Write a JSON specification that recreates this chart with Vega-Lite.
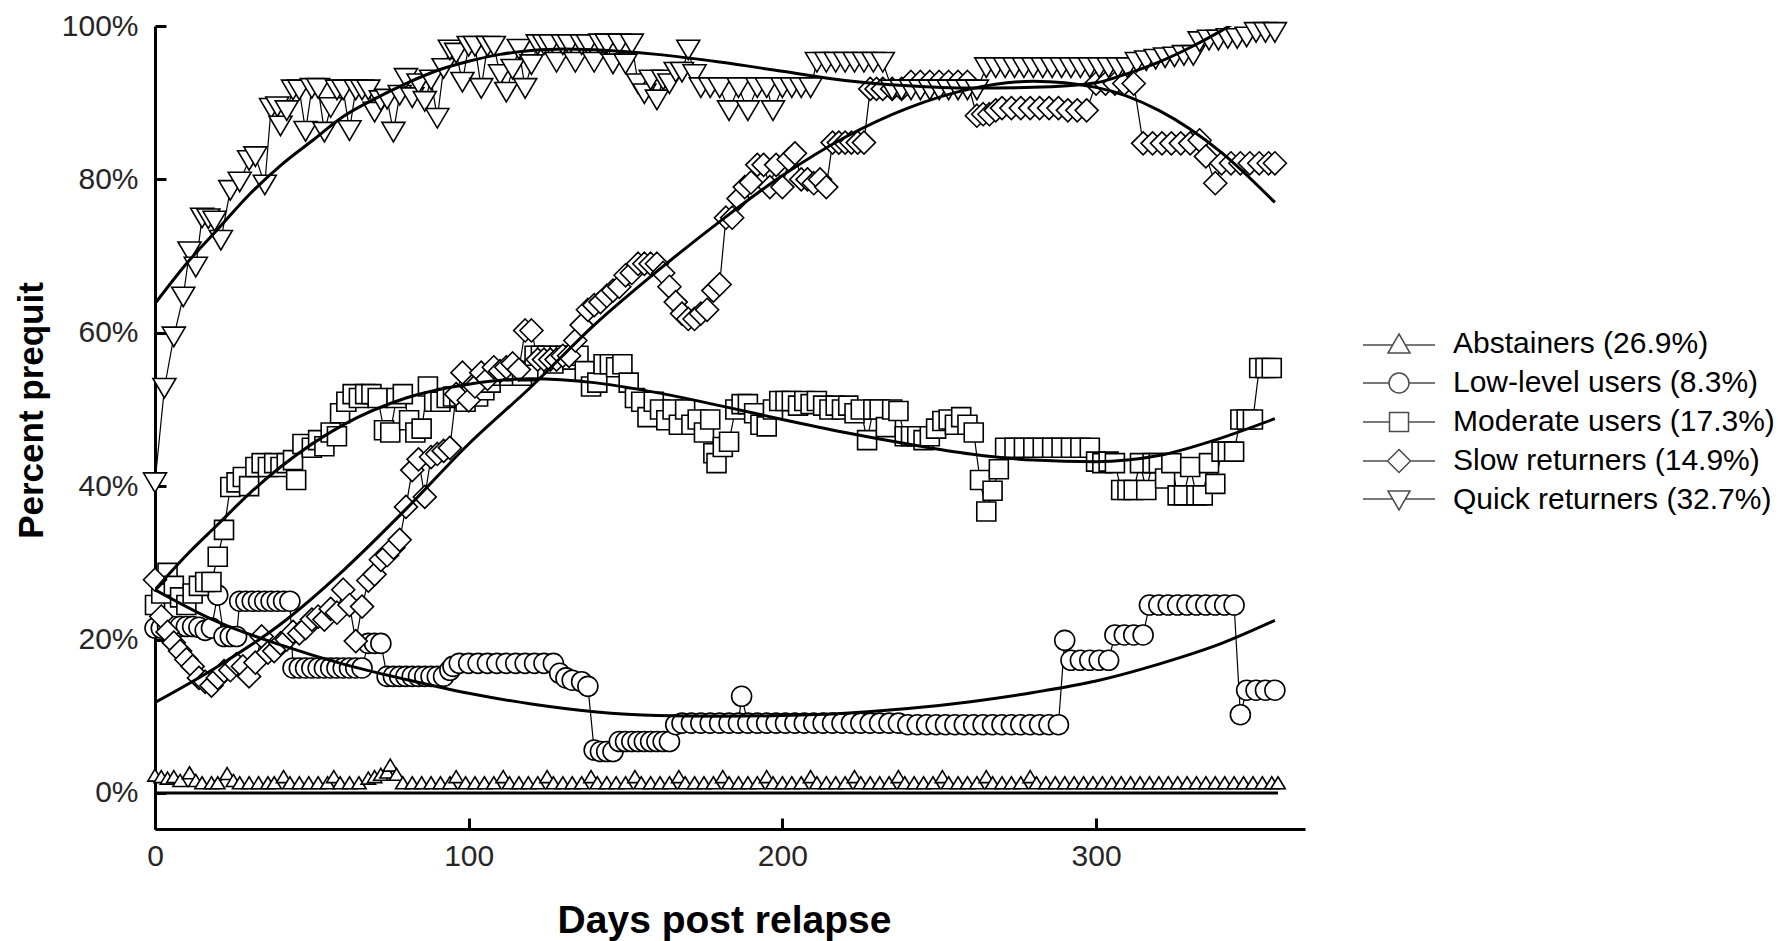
{
  "$schema": "https://vega.github.io/schema/vega-lite/v6.json",
  "width": 1150,
  "height": 803,
  "autosize": {"type": "none"},
  "padding": {"left": 155, "top": 26, "right": 482, "bottom": 112},
  "background": "white",
  "config": {"view": {"stroke": null}, "font": "Liberation Sans"},
  "datasets": {
    "leg": [
      {"name": "Abstainers (26.9%)"},
      {"name": "Low-level users (8.3%)"},
      {"name": "Moderate users (17.3%)"},
      {"name": "Slow returners (14.9%)"},
      {"name": "Quick returners (32.7%)"}
    ],
    "obs": [
      {"g":"A","d":0,"v":2.2},{"g":"A","d":2,"v":2.0},{"g":"A","d":4,"v":1.8},{"g":"A","d":6,"v":2.0},{"g":"A","d":8,"v":1.5},{"g":"A","d":11,"v":2.5},{"g":"A","d":13,"v":1.5},{"g":"A","d":15,"v":1.2},{"g":"A","d":18,"v":1.2},{"g":"A","d":20,"v":1.2},{"g":"A","d":23,"v":2.4},{"g":"A","d":25,"v":1.5},{"g":"A","d":27,"v":1.2},{"g":"A","d":30,"v":1.2},{"g":"A","d":33,"v":1.2},{"g":"A","d":36,"v":1.2},{"g":"A","d":38,"v":1.2},{"g":"A","d":41,"v":2.0},{"g":"A","d":43,"v":1.2},{"g":"A","d":46,"v":1.2},{"g":"A","d":49,"v":1.2},{"g":"A","d":52,"v":1.2},{"g":"A","d":55,"v":1.2},{"g":"A","d":57,"v":2.0},{"g":"A","d":59,"v":1.2},{"g":"A","d":62,"v":1.2},{"g":"A","d":65,"v":1.2},{"g":"A","d":68,"v":1.8},{"g":"A","d":70,"v":2.0},{"g":"A","d":72,"v":2.3},{"g":"A","d":74,"v":2.6},{"g":"A","d":75,"v":3.5},{"g":"A","d":77,"v":2.3},{"g":"A","d":79,"v":1.2},{"g":"A","d":82,"v":1.2},{"g":"A","d":85,"v":1.2},{"g":"A","d":88,"v":1.2},{"g":"A","d":91,"v":1.2},{"g":"A","d":94,"v":1.2},{"g":"A","d":96,"v":2.0},{"g":"A","d":99,"v":1.2},{"g":"A","d":102,"v":1.2},{"g":"A","d":105,"v":1.2},{"g":"A","d":108,"v":1.2},{"g":"A","d":111,"v":2.0},{"g":"A","d":113,"v":1.2},{"g":"A","d":116,"v":1.2},{"g":"A","d":119,"v":1.2},{"g":"A","d":122,"v":1.2},{"g":"A","d":125,"v":2.0},{"g":"A","d":127,"v":1.2},{"g":"A","d":130,"v":1.2},{"g":"A","d":133,"v":1.2},{"g":"A","d":136,"v":1.2},{"g":"A","d":139,"v":2.0},{"g":"A","d":141,"v":1.2},{"g":"A","d":144,"v":1.2},{"g":"A","d":147,"v":1.2},{"g":"A","d":150,"v":1.2},{"g":"A","d":153,"v":2.0},{"g":"A","d":155,"v":1.2},{"g":"A","d":158,"v":1.2},{"g":"A","d":161,"v":1.2},{"g":"A","d":164,"v":1.2},{"g":"A","d":167,"v":2.0},{"g":"A","d":169,"v":1.2},{"g":"A","d":172,"v":1.2},{"g":"A","d":175,"v":1.2},{"g":"A","d":178,"v":1.2},{"g":"A","d":181,"v":2.0},{"g":"A","d":183,"v":1.2},{"g":"A","d":186,"v":1.2},{"g":"A","d":189,"v":1.2},{"g":"A","d":192,"v":1.2},{"g":"A","d":195,"v":2.0},{"g":"A","d":197,"v":1.2},{"g":"A","d":200,"v":1.2},{"g":"A","d":203,"v":1.2},{"g":"A","d":206,"v":1.2},{"g":"A","d":209,"v":2.0},{"g":"A","d":211,"v":1.2},{"g":"A","d":214,"v":1.2},{"g":"A","d":217,"v":1.2},{"g":"A","d":220,"v":1.2},{"g":"A","d":223,"v":2.0},{"g":"A","d":225,"v":1.2},{"g":"A","d":228,"v":1.2},{"g":"A","d":231,"v":1.2},{"g":"A","d":234,"v":1.2},{"g":"A","d":237,"v":2.0},{"g":"A","d":239,"v":1.2},{"g":"A","d":242,"v":1.2},{"g":"A","d":245,"v":1.2},{"g":"A","d":248,"v":1.2},{"g":"A","d":251,"v":2.0},{"g":"A","d":253,"v":1.2},{"g":"A","d":256,"v":1.2},{"g":"A","d":259,"v":1.2},{"g":"A","d":262,"v":1.2},{"g":"A","d":265,"v":2.0},{"g":"A","d":267,"v":1.2},{"g":"A","d":270,"v":1.2},{"g":"A","d":273,"v":1.2},{"g":"A","d":276,"v":1.2},{"g":"A","d":279,"v":2.0},{"g":"A","d":281,"v":1.2},{"g":"A","d":284,"v":1.2},{"g":"A","d":287,"v":1.2},{"g":"A","d":290,"v":1.2},{"g":"A","d":293,"v":1.2},{"g":"A","d":296,"v":1.2},{"g":"A","d":299,"v":1.2},{"g":"A","d":302,"v":1.2},{"g":"A","d":305,"v":1.2},{"g":"A","d":308,"v":1.2},{"g":"A","d":311,"v":1.2},{"g":"A","d":314,"v":1.2},{"g":"A","d":317,"v":1.2},{"g":"A","d":320,"v":1.2},{"g":"A","d":323,"v":1.2},{"g":"A","d":326,"v":1.2},{"g":"A","d":329,"v":1.2},{"g":"A","d":332,"v":1.2},{"g":"A","d":335,"v":1.2},{"g":"A","d":338,"v":1.2},{"g":"A","d":341,"v":1.2},{"g":"A","d":344,"v":1.2},{"g":"A","d":347,"v":1.2},{"g":"A","d":350,"v":1.2},{"g":"A","d":353,"v":1.2},{"g":"A","d":356,"v":1.2},{"g":"A","d":358,"v":1.2},

      {"g":"L","d":0,"v":21.5},{"g":"L","d":2,"v":21.5},{"g":"L","d":4,"v":21.7},{"g":"L","d":6,"v":21.7},{"g":"L","d":8,"v":21.7},{"g":"L","d":10,"v":21.7},{"g":"L","d":12,"v":21.7},{"g":"L","d":14,"v":21.6},{"g":"L","d":16,"v":21.2},{"g":"L","d":18,"v":21.5},{"g":"L","d":20,"v":25.8},{"g":"L","d":22,"v":20.4},{"g":"L","d":24,"v":20.4},{"g":"L","d":26,"v":20.4},{"g":"L","d":27,"v":25},{"g":"L","d":29,"v":25},{"g":"L","d":31,"v":25},{"g":"L","d":33,"v":25},{"g":"L","d":35,"v":25},{"g":"L","d":37,"v":25},{"g":"L","d":39,"v":25},{"g":"L","d":41,"v":25},{"g":"L","d":43,"v":25},{"g":"L","d":44,"v":16.3},{"g":"L","d":46,"v":16.3},{"g":"L","d":48,"v":16.3},{"g":"L","d":50,"v":16.3},{"g":"L","d":52,"v":16.3},{"g":"L","d":54,"v":16.3},{"g":"L","d":56,"v":16.3},{"g":"L","d":58,"v":16.3},{"g":"L","d":60,"v":16.3},{"g":"L","d":62,"v":16.3},{"g":"L","d":64,"v":16.3},{"g":"L","d":66,"v":16.3},{"g":"L","d":68,"v":19.5},{"g":"L","d":70,"v":19.5},{"g":"L","d":72,"v":19.5},{"g":"L","d":74,"v":15.2},{"g":"L","d":76,"v":15.2},{"g":"L","d":78,"v":15.2},{"g":"L","d":80,"v":15.2},{"g":"L","d":82,"v":15.2},{"g":"L","d":84,"v":15.2},{"g":"L","d":86,"v":15.2},{"g":"L","d":88,"v":15.2},{"g":"L","d":90,"v":15.2},{"g":"L","d":92,"v":15.2},{"g":"L","d":94,"v":16},{"g":"L","d":95,"v":16.5},{"g":"L","d":97,"v":16.9},{"g":"L","d":100,"v":16.9},{"g":"L","d":103,"v":16.9},{"g":"L","d":106,"v":16.9},{"g":"L","d":109,"v":16.9},{"g":"L","d":112,"v":16.9},{"g":"L","d":115,"v":16.9},{"g":"L","d":118,"v":16.9},{"g":"L","d":121,"v":16.9},{"g":"L","d":124,"v":16.9},{"g":"L","d":127,"v":16.9},{"g":"L","d":129,"v":15.6},{"g":"L","d":131,"v":15},{"g":"L","d":133,"v":14.7},{"g":"L","d":136,"v":14.5},{"g":"L","d":138,"v":13.9},{"g":"L","d":140,"v":5.6},{"g":"L","d":142,"v":5.4},{"g":"L","d":144,"v":5.4},{"g":"L","d":146,"v":5.4},{"g":"L","d":148,"v":6.7},{"g":"L","d":150,"v":6.7},{"g":"L","d":152,"v":6.7},{"g":"L","d":154,"v":6.7},{"g":"L","d":156,"v":6.7},{"g":"L","d":158,"v":6.7},{"g":"L","d":160,"v":6.7},{"g":"L","d":162,"v":6.7},{"g":"L","d":164,"v":6.7},{"g":"L","d":166,"v":8.9},{"g":"L","d":168,"v":9.1},{"g":"L","d":171,"v":9.1},{"g":"L","d":174,"v":9.1},{"g":"L","d":177,"v":9.1},{"g":"L","d":180,"v":9.1},{"g":"L","d":183,"v":9.1},{"g":"L","d":186,"v":9.1},{"g":"L","d":187,"v":12.6},{"g":"L","d":189,"v":9.1},{"g":"L","d":192,"v":9.1},{"g":"L","d":195,"v":9.1},{"g":"L","d":198,"v":9.1},{"g":"L","d":201,"v":9.1},{"g":"L","d":204,"v":9.1},{"g":"L","d":207,"v":9.1},{"g":"L","d":210,"v":9.1},{"g":"L","d":213,"v":9.1},{"g":"L","d":216,"v":9.1},{"g":"L","d":219,"v":9.1},{"g":"L","d":222,"v":9.1},{"g":"L","d":225,"v":9.1},{"g":"L","d":228,"v":9.1},{"g":"L","d":231,"v":9.1},{"g":"L","d":234,"v":9.1},{"g":"L","d":237,"v":9.1},{"g":"L","d":240,"v":8.9},{"g":"L","d":243,"v":8.9},{"g":"L","d":246,"v":8.9},{"g":"L","d":249,"v":8.9},{"g":"L","d":252,"v":8.9},{"g":"L","d":255,"v":8.9},{"g":"L","d":258,"v":8.9},{"g":"L","d":261,"v":8.9},{"g":"L","d":264,"v":8.9},{"g":"L","d":267,"v":8.9},{"g":"L","d":270,"v":8.9},{"g":"L","d":273,"v":8.9},{"g":"L","d":276,"v":8.9},{"g":"L","d":279,"v":8.9},{"g":"L","d":282,"v":8.9},{"g":"L","d":285,"v":8.9},{"g":"L","d":288,"v":8.9},{"g":"L","d":290,"v":19.9},{"g":"L","d":292,"v":17.3},{"g":"L","d":295,"v":17.3},{"g":"L","d":298,"v":17.3},{"g":"L","d":301,"v":17.3},{"g":"L","d":304,"v":17.3},{"g":"L","d":306,"v":20.6},{"g":"L","d":309,"v":20.6},{"g":"L","d":312,"v":20.6},{"g":"L","d":315,"v":20.6},{"g":"L","d":317,"v":24.5},{"g":"L","d":320,"v":24.5},{"g":"L","d":323,"v":24.5},{"g":"L","d":326,"v":24.5},{"g":"L","d":329,"v":24.5},{"g":"L","d":332,"v":24.5},{"g":"L","d":335,"v":24.5},{"g":"L","d":338,"v":24.5},{"g":"L","d":341,"v":24.5},{"g":"L","d":344,"v":24.5},{"g":"L","d":346,"v":10.2},{"g":"L","d":348,"v":13.4},{"g":"L","d":351,"v":13.4},{"g":"L","d":354,"v":13.4},{"g":"L","d":357,"v":13.4},

      {"g":"M","d":0,"v":24.5},{"g":"M","d":2,"v":26},{"g":"M","d":4,"v":28.7},{"g":"M","d":6,"v":27},{"g":"M","d":8,"v":25.5},{"g":"M","d":10,"v":24.5},{"g":"M","d":12,"v":26},{"g":"M","d":14,"v":27},{"g":"M","d":16,"v":27.5},{"g":"M","d":18,"v":27.5},{"g":"M","d":20,"v":30.8},{"g":"M","d":22,"v":34.3},{"g":"M","d":24,"v":39.9},{"g":"M","d":26,"v":40.5},{"g":"M","d":28,"v":41.2},{"g":"M","d":30,"v":40},{"g":"M","d":32,"v":42.5},{"g":"M","d":34,"v":43},{"g":"M","d":36,"v":42.5},{"g":"M","d":38,"v":43},{"g":"M","d":40,"v":42.5},{"g":"M","d":42,"v":43},{"g":"M","d":44,"v":43.4},{"g":"M","d":45,"v":40.8},{"g":"M","d":47,"v":45.5},{"g":"M","d":50,"v":45},{"g":"M","d":52,"v":46},{"g":"M","d":54,"v":45.2},{"g":"M","d":56,"v":47},{"g":"M","d":58,"v":46.5},{"g":"M","d":59,"v":49.5},{"g":"M","d":61,"v":51},{"g":"M","d":63,"v":52},{"g":"M","d":65,"v":51.5},{"g":"M","d":67,"v":52},{"g":"M","d":69,"v":52},{"g":"M","d":71,"v":51.5},{"g":"M","d":73,"v":47.3},{"g":"M","d":75,"v":47},{"g":"M","d":77,"v":51.5},{"g":"M","d":79,"v":52},{"g":"M","d":81,"v":48.6},{"g":"M","d":83,"v":47},{"g":"M","d":85,"v":47.5},{"g":"M","d":87,"v":53},{"g":"M","d":89,"v":51},{"g":"M","d":91,"v":51},{"g":"M","d":93,"v":51.5},{"g":"M","d":95,"v":51.7},{"g":"M","d":97,"v":51.7},{"g":"M","d":99,"v":51},{"g":"M","d":101,"v":52},{"g":"M","d":103,"v":51.7},{"g":"M","d":105,"v":52.5},{"g":"M","d":107,"v":53.5},{"g":"M","d":109,"v":54.4},{"g":"M","d":111,"v":54.4},{"g":"M","d":113,"v":54.4},{"g":"M","d":115,"v":55},{"g":"M","d":117,"v":54.4},{"g":"M","d":119,"v":55},{"g":"M","d":121,"v":57},{"g":"M","d":123,"v":57},{"g":"M","d":125,"v":57},{"g":"M","d":127,"v":56},{"g":"M","d":129,"v":57},{"g":"M","d":131,"v":57},{"g":"M","d":133,"v":56.5},{"g":"M","d":135,"v":57},{"g":"M","d":137,"v":55},{"g":"M","d":139,"v":53},{"g":"M","d":141,"v":53.5},{"g":"M","d":143,"v":55.9},{"g":"M","d":145,"v":55.9},{"g":"M","d":147,"v":55.5},{"g":"M","d":149,"v":55.9},{"g":"M","d":151,"v":53.5},{"g":"M","d":153,"v":51.5},{"g":"M","d":155,"v":51},{"g":"M","d":157,"v":49},{"g":"M","d":159,"v":51},{"g":"M","d":161,"v":50},{"g":"M","d":163,"v":48.6},{"g":"M","d":165,"v":50},{"g":"M","d":167,"v":48},{"g":"M","d":169,"v":50},{"g":"M","d":171,"v":48},{"g":"M","d":173,"v":48.7},{"g":"M","d":175,"v":47},{"g":"M","d":177,"v":48.7},{"g":"M","d":178,"v":44.3},{"g":"M","d":179,"v":43},{"g":"M","d":181,"v":45.1},{"g":"M","d":183,"v":45.8},{"g":"M","d":185,"v":50},{"g":"M","d":187,"v":50.7},{"g":"M","d":189,"v":50.7},{"g":"M","d":191,"v":49.5},{"g":"M","d":193,"v":48},{"g":"M","d":195,"v":47.8},{"g":"M","d":197,"v":50},{"g":"M","d":199,"v":51.1},{"g":"M","d":201,"v":51.1},{"g":"M","d":203,"v":51.1},{"g":"M","d":205,"v":50.5},{"g":"M","d":207,"v":51.1},{"g":"M","d":209,"v":50.7},{"g":"M","d":211,"v":51.1},{"g":"M","d":213,"v":50.5},{"g":"M","d":215,"v":50},{"g":"M","d":217,"v":50.5},{"g":"M","d":219,"v":50},{"g":"M","d":221,"v":50.5},{"g":"M","d":223,"v":49.5},{"g":"M","d":225,"v":50},{"g":"M","d":227,"v":46},{"g":"M","d":229,"v":50},{"g":"M","d":231,"v":50},{"g":"M","d":233,"v":47.7},{"g":"M","d":235,"v":50},{"g":"M","d":237,"v":49.8},{"g":"M","d":239,"v":46.5},{"g":"M","d":241,"v":46.5},{"g":"M","d":243,"v":46.5},{"g":"M","d":245,"v":46},{"g":"M","d":247,"v":46.5},{"g":"M","d":249,"v":47.5},{"g":"M","d":251,"v":48.5},{"g":"M","d":253,"v":48.7},{"g":"M","d":255,"v":48},{"g":"M","d":257,"v":49},{"g":"M","d":259,"v":48},{"g":"M","d":261,"v":47},{"g":"M","d":263,"v":40.8},{"g":"M","d":265,"v":36.7},{"g":"M","d":267,"v":39.4},{"g":"M","d":269,"v":42.2},{"g":"M","d":271,"v":45},{"g":"M","d":274,"v":45},{"g":"M","d":277,"v":45},{"g":"M","d":280,"v":45},{"g":"M","d":283,"v":45},{"g":"M","d":286,"v":45},{"g":"M","d":289,"v":45},{"g":"M","d":292,"v":45},{"g":"M","d":295,"v":45},{"g":"M","d":298,"v":45},{"g":"M","d":300,"v":43.2},{"g":"M","d":302,"v":43},{"g":"M","d":304,"v":43.2},{"g":"M","d":306,"v":43},{"g":"M","d":308,"v":39.5},{"g":"M","d":310,"v":39.5},{"g":"M","d":312,"v":39.5},{"g":"M","d":314,"v":43},{"g":"M","d":316,"v":39.5},{"g":"M","d":318,"v":43},{"g":"M","d":320,"v":43},{"g":"M","d":322,"v":41},{"g":"M","d":324,"v":43},{"g":"M","d":326,"v":38.8},{"g":"M","d":328,"v":38.8},{"g":"M","d":330,"v":42.5},{"g":"M","d":332,"v":38.8},{"g":"M","d":334,"v":38.8},{"g":"M","d":336,"v":43},{"g":"M","d":338,"v":40.3},{"g":"M","d":340,"v":44.5},{"g":"M","d":342,"v":44.5},{"g":"M","d":344,"v":44.5},{"g":"M","d":346,"v":48.7},{"g":"M","d":348,"v":48.7},{"g":"M","d":350,"v":48.7},{"g":"M","d":352,"v":55.4},{"g":"M","d":354,"v":55.4},{"g":"M","d":356,"v":55.4},

      {"g":"S","d":0,"v":27.8},{"g":"S","d":2,"v":23},{"g":"S","d":4,"v":21},{"g":"S","d":6,"v":19.6},{"g":"S","d":8,"v":18.5},{"g":"S","d":10,"v":17.4},{"g":"S","d":12,"v":16.5},{"g":"S","d":14,"v":15},{"g":"S","d":16,"v":14.5},{"g":"S","d":18,"v":14},{"g":"S","d":20,"v":15},{"g":"S","d":22,"v":15.9},{"g":"S","d":24,"v":16},{"g":"S","d":26,"v":16.8},{"g":"S","d":28,"v":16.5},{"g":"S","d":30,"v":15.2},{"g":"S","d":32,"v":17},{"g":"S","d":34,"v":20.4},{"g":"S","d":36,"v":18.3},{"g":"S","d":38,"v":18.5},{"g":"S","d":40,"v":19.5},{"g":"S","d":42,"v":20},{"g":"S","d":44,"v":21},{"g":"S","d":46,"v":20.8},{"g":"S","d":48,"v":21.5},{"g":"S","d":50,"v":22.6},{"g":"S","d":52,"v":23},{"g":"S","d":54,"v":22.6},{"g":"S","d":56,"v":24},{"g":"S","d":58,"v":23.5},{"g":"S","d":60,"v":26.5},{"g":"S","d":62,"v":24.5},{"g":"S","d":64,"v":19.8},{"g":"S","d":66,"v":24.3},{"g":"S","d":68,"v":27.7},{"g":"S","d":70,"v":28.5},{"g":"S","d":72,"v":30.4},{"g":"S","d":74,"v":31},{"g":"S","d":76,"v":32},{"g":"S","d":78,"v":33},{"g":"S","d":80,"v":37.3},{"g":"S","d":82,"v":42.1},{"g":"S","d":84,"v":43.5},{"g":"S","d":86,"v":38.6},{"g":"S","d":88,"v":43.8},{"g":"S","d":90,"v":44.2},{"g":"S","d":92,"v":44.6},{"g":"S","d":94,"v":45},{"g":"S","d":96,"v":52},{"g":"S","d":98,"v":54.8},{"g":"S","d":100,"v":51.2},{"g":"S","d":102,"v":53},{"g":"S","d":104,"v":54.8},{"g":"S","d":106,"v":54},{"g":"S","d":108,"v":55.5},{"g":"S","d":110,"v":55},{"g":"S","d":112,"v":55.5},{"g":"S","d":114,"v":56},{"g":"S","d":116,"v":55.2},{"g":"S","d":118,"v":60.3},{"g":"S","d":120,"v":60.3},{"g":"S","d":122,"v":56.5},{"g":"S","d":124,"v":56.5},{"g":"S","d":126,"v":56.5},{"g":"S","d":128,"v":56.5},{"g":"S","d":130,"v":57},{"g":"S","d":132,"v":57},{"g":"S","d":134,"v":59},{"g":"S","d":136,"v":61},{"g":"S","d":138,"v":63},{"g":"S","d":140,"v":63.6},{"g":"S","d":142,"v":64},{"g":"S","d":144,"v":64.8},{"g":"S","d":146,"v":65.5},{"g":"S","d":148,"v":66},{"g":"S","d":150,"v":67.5},{"g":"S","d":152,"v":67.8},{"g":"S","d":154,"v":69},{"g":"S","d":156,"v":69},{"g":"S","d":158,"v":69},{"g":"S","d":160,"v":69},{"g":"S","d":162,"v":67.8},{"g":"S","d":164,"v":66},{"g":"S","d":166,"v":64},{"g":"S","d":168,"v":62.5},{"g":"S","d":170,"v":61.8},{"g":"S","d":172,"v":61.8},{"g":"S","d":174,"v":62.5},{"g":"S","d":176,"v":63},{"g":"S","d":178,"v":65.5},{"g":"S","d":180,"v":66.3},{"g":"S","d":182,"v":75},{"g":"S","d":184,"v":75},{"g":"S","d":186,"v":77.5},{"g":"S","d":188,"v":79},{"g":"S","d":190,"v":79.6},{"g":"S","d":192,"v":81.9},{"g":"S","d":194,"v":81.9},{"g":"S","d":196,"v":79},{"g":"S","d":198,"v":81.9},{"g":"S","d":200,"v":79},{"g":"S","d":202,"v":82.6},{"g":"S","d":204,"v":83.4},{"g":"S","d":206,"v":80},{"g":"S","d":208,"v":80},{"g":"S","d":210,"v":79.5},{"g":"S","d":212,"v":80},{"g":"S","d":214,"v":79},{"g":"S","d":216,"v":84.8},{"g":"S","d":218,"v":84.8},{"g":"S","d":220,"v":84.8},{"g":"S","d":222,"v":84.8},{"g":"S","d":224,"v":84.8},{"g":"S","d":226,"v":84.8},{"g":"S","d":228,"v":91.8},{"g":"S","d":230,"v":91.8},{"g":"S","d":232,"v":91.8},{"g":"S","d":235,"v":91.8},{"g":"S","d":238,"v":91.8},{"g":"S","d":241,"v":92.7},{"g":"S","d":244,"v":92.7},{"g":"S","d":247,"v":92.7},{"g":"S","d":250,"v":92.7},{"g":"S","d":253,"v":92.7},{"g":"S","d":256,"v":92.7},{"g":"S","d":259,"v":92.7},{"g":"S","d":262,"v":88.3},{"g":"S","d":264,"v":88.5},{"g":"S","d":266,"v":88.5},{"g":"S","d":268,"v":89},{"g":"S","d":270,"v":89.3},{"g":"S","d":273,"v":89.3},{"g":"S","d":276,"v":89.3},{"g":"S","d":279,"v":89.3},{"g":"S","d":282,"v":89.3},{"g":"S","d":285,"v":89.3},{"g":"S","d":288,"v":89.3},{"g":"S","d":291,"v":89},{"g":"S","d":294,"v":89},{"g":"S","d":297,"v":89},{"g":"S","d":300,"v":92.5},{"g":"S","d":303,"v":92.5},{"g":"S","d":306,"v":92.5},{"g":"S","d":309,"v":92.5},{"g":"S","d":312,"v":92.5},{"g":"S","d":315,"v":84.7},{"g":"S","d":318,"v":84.7},{"g":"S","d":321,"v":84.7},{"g":"S","d":324,"v":84.7},{"g":"S","d":327,"v":84.7},{"g":"S","d":330,"v":84.7},{"g":"S","d":333,"v":85.1},{"g":"S","d":335,"v":83},{"g":"S","d":338,"v":79.5},{"g":"S","d":340,"v":82.1},{"g":"S","d":343,"v":82.1},{"g":"S","d":346,"v":82.1},{"g":"S","d":349,"v":82.1},{"g":"S","d":352,"v":82.1},{"g":"S","d":355,"v":82.1},{"g":"S","d":357,"v":82.1},

      {"g":"Q","d":0,"v":40.5},{"g":"Q","d":3,"v":52.8},{"g":"Q","d":6,"v":59.5},{"g":"Q","d":9,"v":64.7},{"g":"Q","d":11,"v":70.6},{"g":"Q","d":13,"v":68.6},{"g":"Q","d":15,"v":75},{"g":"Q","d":17,"v":74.9},{"g":"Q","d":19,"v":74.6},{"g":"Q","d":21,"v":72.1},{"g":"Q","d":24,"v":78.6},{"g":"Q","d":27,"v":79.7},{"g":"Q","d":30,"v":82.5},{"g":"Q","d":32,"v":83},{"g":"Q","d":35,"v":79.3},{"g":"Q","d":37,"v":89.3},{"g":"Q","d":39,"v":89.5},{"g":"Q","d":40,"v":87},{"g":"Q","d":42,"v":89},{"g":"Q","d":44,"v":91.7},{"g":"Q","d":46,"v":91.7},{"g":"Q","d":48,"v":86.3},{"g":"Q","d":50,"v":91.9},{"g":"Q","d":52,"v":91.9},{"g":"Q","d":54,"v":86.2},{"g":"Q","d":56,"v":89.4},{"g":"Q","d":58,"v":91.7},{"g":"Q","d":60,"v":91.7},{"g":"Q","d":62,"v":86.4},{"g":"Q","d":64,"v":91.7},{"g":"Q","d":66,"v":91.7},{"g":"Q","d":68,"v":91.7},{"g":"Q","d":70,"v":88.8},{"g":"Q","d":72,"v":90.3},{"g":"Q","d":74,"v":90.5},{"g":"Q","d":76,"v":86.2},{"g":"Q","d":78,"v":91},{"g":"Q","d":80,"v":93.2},{"g":"Q","d":82,"v":90.7},{"g":"Q","d":84,"v":92.5},{"g":"Q","d":86,"v":90.2},{"g":"Q","d":88,"v":93},{"g":"Q","d":90,"v":88},{"g":"Q","d":92,"v":94.5},{"g":"Q","d":94,"v":96.9},{"g":"Q","d":96,"v":96.5},{"g":"Q","d":98,"v":92.7},{"g":"Q","d":100,"v":97.4},{"g":"Q","d":102,"v":97.4},{"g":"Q","d":104,"v":91.9},{"g":"Q","d":106,"v":97.4},{"g":"Q","d":108,"v":97.4},{"g":"Q","d":110,"v":93.7},{"g":"Q","d":112,"v":91.4},{"g":"Q","d":114,"v":94.4},{"g":"Q","d":116,"v":97},{"g":"Q","d":118,"v":91.9},{"g":"Q","d":120,"v":95},{"g":"Q","d":122,"v":97.6},{"g":"Q","d":124,"v":97.6},{"g":"Q","d":126,"v":97.6},{"g":"Q","d":128,"v":95.3},{"g":"Q","d":130,"v":97.6},{"g":"Q","d":132,"v":97.6},{"g":"Q","d":134,"v":95.3},{"g":"Q","d":136,"v":97.6},{"g":"Q","d":138,"v":97.6},{"g":"Q","d":140,"v":95.3},{"g":"Q","d":142,"v":97.7},{"g":"Q","d":144,"v":97.7},{"g":"Q","d":146,"v":95.1},{"g":"Q","d":148,"v":97.7},{"g":"Q","d":150,"v":95.1},{"g":"Q","d":152,"v":97.7},{"g":"Q","d":154,"v":92.5},{"g":"Q","d":156,"v":91.2},{"g":"Q","d":158,"v":93},{"g":"Q","d":160,"v":90.4},{"g":"Q","d":162,"v":93},{"g":"Q","d":164,"v":92.5},{"g":"Q","d":166,"v":94},{"g":"Q","d":168,"v":94},{"g":"Q","d":170,"v":96.9},{"g":"Q","d":172,"v":93.7},{"g":"Q","d":174,"v":92},{"g":"Q","d":177,"v":92},{"g":"Q","d":180,"v":92},{"g":"Q","d":183,"v":89},{"g":"Q","d":186,"v":92},{"g":"Q","d":189,"v":89},{"g":"Q","d":192,"v":92},{"g":"Q","d":195,"v":92},{"g":"Q","d":197,"v":89},{"g":"Q","d":200,"v":92},{"g":"Q","d":203,"v":92},{"g":"Q","d":206,"v":92},{"g":"Q","d":209,"v":92},{"g":"Q","d":211,"v":95.3},{"g":"Q","d":214,"v":95.3},{"g":"Q","d":217,"v":95.3},{"g":"Q","d":220,"v":95.3},{"g":"Q","d":223,"v":95.3},{"g":"Q","d":226,"v":95.3},{"g":"Q","d":229,"v":95.3},{"g":"Q","d":232,"v":95.3},{"g":"Q","d":235,"v":91.7},{"g":"Q","d":238,"v":91.7},{"g":"Q","d":241,"v":91.7},{"g":"Q","d":244,"v":91.7},{"g":"Q","d":247,"v":91.7},{"g":"Q","d":250,"v":91.7},{"g":"Q","d":253,"v":91.7},{"g":"Q","d":256,"v":91.7},{"g":"Q","d":259,"v":91.7},{"g":"Q","d":262,"v":91.7},{"g":"Q","d":265,"v":94.6},{"g":"Q","d":268,"v":94.6},{"g":"Q","d":271,"v":94.6},{"g":"Q","d":274,"v":94.6},{"g":"Q","d":277,"v":94.6},{"g":"Q","d":280,"v":94.6},{"g":"Q","d":283,"v":94.6},{"g":"Q","d":286,"v":94.6},{"g":"Q","d":289,"v":94.6},{"g":"Q","d":292,"v":94.6},{"g":"Q","d":295,"v":94.6},{"g":"Q","d":298,"v":94.6},{"g":"Q","d":301,"v":94.6},{"g":"Q","d":304,"v":94.6},{"g":"Q","d":307,"v":94.6},{"g":"Q","d":310,"v":94.6},{"g":"Q","d":313,"v":95.3},{"g":"Q","d":316,"v":95.5},{"g":"Q","d":319,"v":95.7},{"g":"Q","d":322,"v":95.9},{"g":"Q","d":325,"v":96},{"g":"Q","d":328,"v":96.2},{"g":"Q","d":331,"v":96.2},{"g":"Q","d":333,"v":98},{"g":"Q","d":336,"v":98.2},{"g":"Q","d":339,"v":98.2},{"g":"Q","d":342,"v":98.4},{"g":"Q","d":345,"v":98.4},{"g":"Q","d":348,"v":98.6},{"g":"Q","d":351,"v":99.2},{"g":"Q","d":354,"v":99.2},{"g":"Q","d":357,"v":99.2}
    ],
    "fit": [
      {"g":"A","d":0,"v":0},{"g":"A","d":358,"v":0},
      {"g":"L","d":0,"v":26.5},{"g":"L","d":20,"v":22.3},{"g":"L","d":40,"v":19.3},{"g":"L","d":60,"v":16.8},{"g":"L","d":80,"v":14.8},{"g":"L","d":100,"v":13},{"g":"L","d":120,"v":11.6},{"g":"L","d":140,"v":10.6},{"g":"L","d":160,"v":10.1},{"g":"L","d":180,"v":10},{"g":"L","d":200,"v":10.1},{"g":"L","d":220,"v":10.4},{"g":"L","d":240,"v":11},{"g":"L","d":260,"v":11.9},{"g":"L","d":280,"v":13.1},{"g":"L","d":300,"v":14.6},{"g":"L","d":320,"v":16.8},{"g":"L","d":340,"v":19.5},{"g":"L","d":357,"v":22.5},
      {"g":"M","d":0,"v":26.5},{"g":"M","d":10,"v":31},{"g":"M","d":20,"v":35},{"g":"M","d":30,"v":39},{"g":"M","d":40,"v":42.5},{"g":"M","d":60,"v":48},{"g":"M","d":80,"v":51.5},{"g":"M","d":100,"v":53.3},{"g":"M","d":120,"v":54},{"g":"M","d":140,"v":53.5},{"g":"M","d":160,"v":52.2},{"g":"M","d":180,"v":50.5},{"g":"M","d":200,"v":48.7},{"g":"M","d":220,"v":47},{"g":"M","d":240,"v":45.5},{"g":"M","d":260,"v":44.2},{"g":"M","d":280,"v":43.4},{"g":"M","d":300,"v":43.2},{"g":"M","d":320,"v":44},{"g":"M","d":340,"v":46.3},{"g":"M","d":357,"v":48.8},
      {"g":"S","d":0,"v":11.8},{"g":"S","d":20,"v":16.5},{"g":"S","d":40,"v":22},{"g":"S","d":60,"v":29},{"g":"S","d":80,"v":37},{"g":"S","d":100,"v":45.5},{"g":"S","d":120,"v":53},{"g":"S","d":140,"v":61},{"g":"S","d":160,"v":68},{"g":"S","d":180,"v":74.5},{"g":"S","d":200,"v":80.5},{"g":"S","d":220,"v":85.5},{"g":"S","d":240,"v":89.3},{"g":"S","d":260,"v":91.8},{"g":"S","d":280,"v":92.8},{"g":"S","d":300,"v":92},{"g":"S","d":320,"v":89},{"g":"S","d":340,"v":83.5},{"g":"S","d":357,"v":77},
      {"g":"Q","d":0,"v":63.8},{"g":"Q","d":10,"v":69},{"g":"Q","d":20,"v":73.5},{"g":"Q","d":30,"v":78},{"g":"Q","d":40,"v":81.8},{"g":"Q","d":50,"v":85},{"g":"Q","d":60,"v":88.2},{"g":"Q","d":70,"v":90.5},{"g":"Q","d":80,"v":92.5},{"g":"Q","d":90,"v":94.2},{"g":"Q","d":100,"v":95.4},{"g":"Q","d":110,"v":96.3},{"g":"Q","d":120,"v":96.8},{"g":"Q","d":130,"v":97},{"g":"Q","d":140,"v":96.9},{"g":"Q","d":160,"v":96.3},{"g":"Q","d":180,"v":95.3},{"g":"Q","d":200,"v":94.1},{"g":"Q","d":220,"v":92.9},{"g":"Q","d":240,"v":92.2},{"g":"Q","d":260,"v":91.9},{"g":"Q","d":280,"v":92},{"g":"Q","d":300,"v":92.6},{"g":"Q","d":310,"v":93.8},{"g":"Q","d":320,"v":95.3},{"g":"Q","d":330,"v":97.2},{"g":"Q","d":340,"v":99.4},{"g":"Q","d":345,"v":100.6},{"g":"Q","d":350,"v":101.8}
    ]
  },
  "encoding": {
    "x": {
      "field": "d", "type": "quantitative",
      "scale": {"domain": [0, 366.6], "nice": false, "zero": false},
      "axis": {
        "values": [0, 100, 200, 300], "grid": false, "format": "d",
        "domainColor": "black", "domainWidth": 3, "tickColor": "black", "tickWidth": 3, "tickSize": -11,
        "labelFont": "Liberation Sans", "labelFontSize": 30, "labelColor": "#262626", "labelPadding": 23, "labelFlush": false,
        "title": "Days post relapse", "titleFont": "Liberation Sans", "titleFontSize": 39, "titleFontWeight": "bold", "titleColor": "black",
        "titleX": 569, "titleY": 103, "titleBaseline": "alphabetic", "titleAlign": "center", "titleAnchor": null
      }
    },
    "y": {
      "field": "v", "type": "quantitative",
      "scale": {"domain": [-4.7, 100], "nice": false, "zero": false},
      "axis": {
        "values": [0, 20, 40, 60, 80, 100], "grid": false, "labelExpr": "datum.value + '%'",
        "domainColor": "black", "domainWidth": 3, "tickColor": "black", "tickWidth": 3, "tickSize": -11,
        "labelFont": "Liberation Sans", "labelFontSize": 30, "labelColor": "#262626", "labelPadding": 28, "labelFlush": false,
        "title": "Percent prequit", "titleFont": "Liberation Sans", "titleFontSize": 35, "titleFontWeight": "bold", "titleColor": "black",
        "titleX": -113, "titleY": 384, "titleAngle": -90, "titleBaseline": "alphabetic", "titleAlign": "center", "titleAnchor": null
      }
    }
  },
  "resolve": {"scale": {"shape": "independent"}, "legend": {"shape": "independent"}},
  "layer": [
    {
      "data": {"name": "obs"},
      "mark": {"type": "line", "color": "black", "strokeWidth": 1.2},
      "encoding": {"detail": {"field": "g"}}
    },
    {
      "data": {"name": "obs"},
      "mark": {"type": "point", "filled": false, "fill": "white", "fillOpacity": 1, "stroke": "black", "strokeWidth": 1.6, "size": 400, "opacity": 1},
      "encoding": {
        "shape": {
          "field": "g", "type": "nominal", "legend": null,
          "scale": {
            "domain": ["A", "L", "M", "S", "Q"],
            "range": [
              "M0,-0.7L0.72,0.5L-0.72,0.5Z",
              "M1,0A1,1,0,1,1,-1,0A1,1,0,1,1,1,0Z",
              "M-0.95,-0.95H0.95V0.95H-0.95Z",
              "M0,-1.15L1.15,0L0,1.15L-1.15,0Z",
              "M-1.15,-0.95L1.15,-0.95L0,1Z"
            ]
          }
        }
      }
    },
    {
      "data": {"name": "fit"},
      "mark": {"type": "line", "color": "black", "strokeWidth": 3, "clip": true, "interpolate": "monotone"},
      "encoding": {"detail": {"field": "g"}}
    },
    {
      "data": {"name": "leg"},
      "mark": {"type": "point", "filled": false, "fill": "white", "stroke": "black", "strokeWidth": 1.6, "size": 0},
      "encoding": {
        "x": {"datum": 0},
        "y": {"datum": 0},
        "shape": {
          "field": "name", "type": "nominal",
          "scale": {
            "domain": ["Abstainers (26.9%)", "Low-level users (8.3%)", "Moderate users (17.3%)", "Slow returners (14.9%)", "Quick returners (32.7%)"],
            "range": [
              "M-7.2,0.2H-1.27M1.27,0.2H7.2M0,-2L2.2,1.8L-2.2,1.8Z",
              "M-7.2,0H-2M2,0H7.2M2,0A2,2,0,1,1,-2,0A2,2,0,1,1,2,0Z",
              "M-7.2,0H-1.9M1.9,0H7.2M-1.9,-1.9H1.9V1.9H-1.9Z",
              "M-7.2,0H-2.3M2.3,0H7.2M0,-2.3L2.3,0L0,2.3L-2.3,0Z",
              "M-7.2,-0.2H-1.27M1.27,-0.2H7.2M-2.2,-1.8L2.2,-1.8L0,2Z"
            ]
          },
          "legend": {
            "title": null, "orient": "none", "legendX": 1229, "legendY": 303, "padding": 0,
            "labelFontSize": 30, "labelOffset": 39, "rowPadding": 9, "labelLimit": 600
          }
        }
      }
    }
  ]
}
